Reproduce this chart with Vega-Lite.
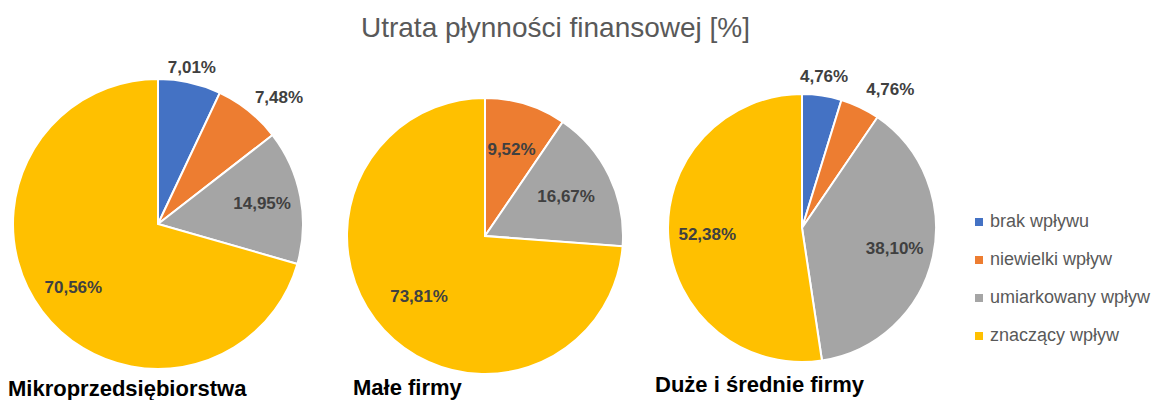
{
  "$schema": "https://vega.github.io/schema/vega-lite/v6.json",
  "padding": {"left": 0, "top": 14, "right": 0, "bottom": 0},
  "background": "#ffffff",
  "bounds": "flush",
  "spacing": 0,
  "title": {
    "text": "Utrata płynności finansowej [%]",
    "font": "Liberation Sans",
    "fontSize": 28,
    "fontWeight": "normal",
    "color": "#595959",
    "anchor": "middle",
    "dx": -20,
    "offset": 16
  },
  "datasets": {
    "dane": [
      {"firma": "Mikroprzedsiębiorstwa", "kat": "brak wpływu", "v": 7.01},
      {"firma": "Mikroprzedsiębiorstwa", "kat": "niewielki wpływ", "v": 7.48},
      {"firma": "Mikroprzedsiębiorstwa", "kat": "umiarkowany wpływ", "v": 14.95},
      {"firma": "Mikroprzedsiębiorstwa", "kat": "znaczący wpływ", "v": 70.56},
      {"firma": "Małe firmy", "kat": "brak wpływu", "v": 0},
      {"firma": "Małe firmy", "kat": "niewielki wpływ", "v": 9.52},
      {"firma": "Małe firmy", "kat": "umiarkowany wpływ", "v": 16.67},
      {"firma": "Małe firmy", "kat": "znaczący wpływ", "v": 73.81},
      {"firma": "Duże i średnie firmy", "kat": "brak wpływu", "v": 4.76},
      {"firma": "Duże i średnie firmy", "kat": "niewielki wpływ", "v": 4.76},
      {"firma": "Duże i średnie firmy", "kat": "umiarkowany wpływ", "v": 38.10},
      {"firma": "Duże i średnie firmy", "kat": "znaczący wpływ", "v": 52.38}
    ]
  },
  "data": {"name": "dane"},
  "hconcat": [
    {
      "width": 316,
      "height": 296,
      "title": {"text": "Mikroprzedsiębiorstwa", "orient": "bottom", "anchor": "start", "dx": 8, "offset": 6, "baseline": "top", "font": "Liberation Sans", "fontSize": 22, "fontWeight": "bold", "color": "#000000"},
      "transform": [
        {"filter": "datum.firma == 'Mikroprzedsiębiorstwa' && datum.v > 0"},
        {"stack": "v", "groupby": [], "sort": [{"field": "kat", "order": "ascending"}], "as": ["t0", "t1"]},
        {"calculate": "(datum.t0 + datum.t1) / 2", "as": "mid"},
        {"calculate": "replace(format(datum.v, '.2f'), '.', ',') + '%'", "as": "lab"}
      ],
      "layer": [
        {
          "mark": {"type": "arc", "outerRadius": 145, "stroke": "#ffffff", "strokeWidth": 2},
          "encoding": {
            "theta": {"field": "t0", "type": "quantitative", "scale": {"domain": [0, 100]}},
            "theta2": {"field": "t1"},
            "color": {"field": "kat", "type": "nominal", "title": null,
              "scale": {"domain": ["brak wpływu", "niewielki wpływ", "umiarkowany wpływ", "znaczący wpływ"], "range": ["#4472C4", "#ED7D31", "#A5A5A5", "#FFC000"]}}
          }
        },
        {
          "transform": [{"filter": "datum.v < 8 && datum.kat == 'brak wpływu'"}],
          "mark": {"type": "text", "radius": 155, "align": "center", "baseline": "alphabetic", "font": "Liberation Sans", "fontSize": 17, "fontWeight": "bold", "color": "#404040"},
          "encoding": {"theta": {"field": "mid", "type": "quantitative", "scale": {"domain": [0, 100]}}, "text": {"field": "lab"}}
        },
        {
          "transform": [{"filter": "datum.v < 8 && datum.kat == 'niewielki wpływ'"}],
          "mark": {"type": "text", "radius": 155, "align": "left", "baseline": "alphabetic", "font": "Liberation Sans", "fontSize": 17, "fontWeight": "bold", "color": "#404040"},
          "encoding": {"theta": {"field": "mid", "type": "quantitative", "scale": {"domain": [0, 100]}}, "text": {"field": "lab"}}
        },
        {
          "transform": [{"filter": "datum.v >= 8"}],
          "mark": {"type": "text", "align": "center", "baseline": "middle", "font": "Liberation Sans", "fontSize": 17, "fontWeight": "bold", "color": "#404040"},
          "encoding": {
            "theta": {"field": "mid", "type": "quantitative", "scale": {"domain": [0, 100]}},
            "radius": {"condition": {"test": "datum.v < 20", "value": 72}, "value": 106},
            "text": {"field": "lab"}
          }
        }
      ]
    },
    {
      "width": 338,
      "height": 320,
      "title": {"text": "Małe firmy", "orient": "bottom", "anchor": "start", "dx": 37, "offset": -18, "baseline": "top", "font": "Liberation Sans", "fontSize": 22, "fontWeight": "bold", "color": "#000000"},
      "transform": [
        {"filter": "datum.firma == 'Małe firmy' && datum.v > 0"},
        {"stack": "v", "groupby": [], "sort": [{"field": "kat", "order": "ascending"}], "as": ["t0", "t1"]},
        {"calculate": "(datum.t0 + datum.t1) / 2", "as": "mid"},
        {"calculate": "replace(format(datum.v, '.2f'), '.', ',') + '%'", "as": "lab"}
      ],
      "layer": [
        {
          "mark": {"type": "arc", "outerRadius": 138, "stroke": "#ffffff", "strokeWidth": 2},
          "encoding": {
            "theta": {"field": "t0", "type": "quantitative", "scale": {"domain": [0, 100]}},
            "theta2": {"field": "t1"},
            "color": {"field": "kat", "type": "nominal", "title": null,
              "scale": {"domain": ["brak wpływu", "niewielki wpływ", "umiarkowany wpływ", "znaczący wpływ"], "range": ["#4472C4", "#ED7D31", "#A5A5A5", "#FFC000"]}}
          }
        },
        {
          "mark": {"type": "text", "align": "center", "baseline": "middle", "font": "Liberation Sans", "fontSize": 17, "fontWeight": "bold", "color": "#404040"},
          "encoding": {
            "theta": {"field": "mid", "type": "quantitative", "scale": {"domain": [0, 100]}},
            "radius": {"condition": [{"test": "datum.v < 10", "value": 108}, {"test": "datum.v < 20", "value": 96}], "value": 90},
            "text": {"field": "lab"}
          }
        }
      ]
    },
    {
      "width": 296,
      "height": 304,
      "title": {"text": "Duże i średnie firmy", "orient": "bottom", "anchor": "start", "dx": 1, "offset": -5, "baseline": "top", "font": "Liberation Sans", "fontSize": 22, "fontWeight": "bold", "color": "#000000"},
      "transform": [
        {"filter": "datum.firma == 'Duże i średnie firmy' && datum.v > 0"},
        {"stack": "v", "groupby": [], "sort": [{"field": "kat", "order": "ascending"}], "as": ["t0", "t1"]},
        {"calculate": "(datum.t0 + datum.t1) / 2", "as": "mid"},
        {"calculate": "replace(format(datum.v, '.2f'), '.', ',') + '%'", "as": "lab"}
      ],
      "layer": [
        {
          "mark": {"type": "arc", "outerRadius": 134, "stroke": "#ffffff", "strokeWidth": 2},
          "encoding": {
            "theta": {"field": "t0", "type": "quantitative", "scale": {"domain": [0, 100]}},
            "theta2": {"field": "t1"},
            "color": {"field": "kat", "type": "nominal", "title": null,
              "scale": {"domain": ["brak wpływu", "niewielki wpływ", "umiarkowany wpływ", "znaczący wpływ"], "range": ["#4472C4", "#ED7D31", "#A5A5A5", "#FFC000"]}}
          }
        },
        {
          "transform": [{"filter": "datum.v < 8 && datum.kat == 'brak wpływu'"}],
          "mark": {"type": "text", "radius": 148, "align": "center", "baseline": "alphabetic", "font": "Liberation Sans", "fontSize": 17, "fontWeight": "bold", "color": "#404040"},
          "encoding": {"theta": {"field": "mid", "type": "quantitative", "scale": {"domain": [0, 100]}}, "text": {"field": "lab"}}
        },
        {
          "transform": [{"filter": "datum.v < 8 && datum.kat == 'niewielki wpływ'"}],
          "mark": {"type": "text", "radius": 148, "align": "left", "baseline": "alphabetic", "font": "Liberation Sans", "fontSize": 17, "fontWeight": "bold", "color": "#404040"},
          "encoding": {"theta": {"field": "mid", "type": "quantitative", "scale": {"domain": [0, 100]}}, "text": {"field": "lab"}}
        },
        {
          "transform": [{"filter": "datum.v >= 8"}],
          "mark": {"type": "text", "radius": 95, "align": "center", "baseline": "middle", "font": "Liberation Sans", "fontSize": 17, "fontWeight": "bold", "color": "#404040"},
          "encoding": {"theta": {"field": "mid", "type": "quantitative", "scale": {"domain": [0, 100]}}, "text": {"field": "lab"}}
        }
      ]
    }
  ],
  "config": {
    "view": {"stroke": null},
    "legend": {
      "orient": "none",
      "legendX": 970,
      "legendY": 137,
      "padding": 0,
      "symbolType": "square",
      "symbolSize": 64,
      "symbolStrokeWidth": 0,
      "labelFont": "Liberation Sans",
      "labelFontSize": 18,
      "labelColor": "#595959",
      "labelOffset": 2,
      "rowPadding": 20,
      "labelLimit": 300
    }
  }
}
